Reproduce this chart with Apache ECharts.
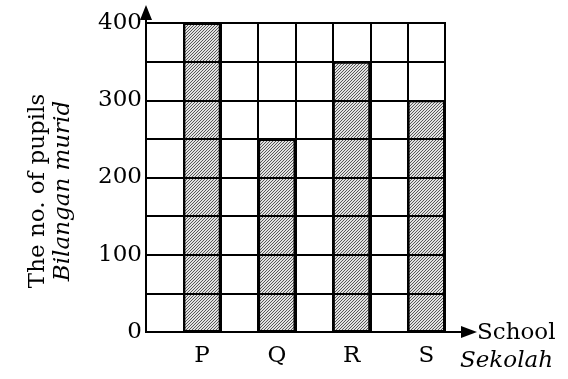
<!DOCTYPE html>
<html>
<head>
<meta charset="utf-8">
<script src="https://cdn.jsdelivr.net/npm/echarts@6/dist/echarts.min.js"></script>
<style>
  html, body { margin: 0; padding: 0; background: #fff; }
  #chart { width: 568px; height: 379px; }
</style>
</head>
<body>
<div id="chart"></div>
<script>
// Number of pupils in each school
const schools = ['P', 'Q', 'R', 'S'];
const pupils = [400, 250, 350, 300];
const yTicks = [0, 100, 200, 300, 400];

// Each school occupies the second of a pair of grid columns
const slotLabels = [];
const slotValues = [];
schools.forEach((s, i) => {
  slotLabels.push('', s);
  slotValues.push('-', pupils[i]);
});

// Fine diagonal hatch fill for the bars (3px pitch, rising to the right)
function hatch() {
  const c = document.createElement('canvas');
  c.width = 3; c.height = 3;
  const g = c.getContext('2d');
  const img = g.createImageData(3, 3);
  for (let y = 0; y < 3; y++) {
    for (let x = 0; x < 3; x++) {
      const dark = (x + y) === 2;
      const v = dark ? 88 : 226;
      const k = (y * 3 + x) * 4;
      img.data[k] = v; img.data[k + 1] = v; img.data[k + 2] = v; img.data[k + 3] = 255;
    }
  }
  g.putImageData(img, 0, 0);
  return c;
}

const FONT = '"DejaVu Serif", serif';
const FS = 23;
const G = { left: 146, top: 23, right: 123, bottom: 47 };
const x0 = G.left, y0 = 379 - G.bottom, x1 = 568 - G.right, yTop = G.top;

const chart = echarts.init(document.getElementById('chart'), null, { renderer: 'canvas' });
chart.setOption({
  animation: false,
  backgroundColor: '#fff',
  grid: { left: G.left, top: G.top, right: G.right, bottom: G.bottom, show: true, borderColor: '#000', borderWidth: 2, backgroundColor: 'transparent', z: 5 },
  xAxis: {
    type: 'category',
    data: slotLabels,
    boundaryGap: true,
    z: 5,
    axisLine: { show: true, lineStyle: { color: '#000', width: 2 } },
    axisTick: { show: false },
    axisLabel: { interval: 0, margin: 13, color: '#000', fontFamily: FONT, fontSize: FS },
    splitLine: { show: true, interval: 0, lineStyle: { color: '#000', width: 2 } }
  },
  yAxis: {
    type: 'value',
    min: 0, max: 400, interval: 50,
    z: 5,
    axisLine: { show: true, lineStyle: { color: '#000', width: 2 } },
    axisTick: { show: false },
    axisLabel: {
      margin: 4, color: '#000', fontFamily: FONT, fontSize: FS,
      formatter: v => (yTicks.indexOf(v) >= 0 ? String(v) : '')
    },
    splitLine: { show: true, lineStyle: { color: '#000', width: 2 } }
  },
  series: [{
    type: 'bar',
    z: 1,
    data: slotValues,
    barWidth: '100%',
    itemStyle: { color: { image: hatch(), repeat: 'repeat' }, borderColor: '#000', borderWidth: 2 }
  }],
  graphic: [
    // y-axis arrow
    { type: 'line', shape: { x1: x0, y1: yTop, x2: x0, y2: 14 }, style: { stroke: '#000', lineWidth: 2 } },
    { type: 'polygon', shape: { points: [[x0, 5], [x0 - 6, 20], [x0 + 6, 20]] }, style: { fill: '#000' } },
    // x-axis arrow
    { type: 'line', shape: { x1: x1, y1: y0, x2: x1 + 18, y2: y0 }, style: { stroke: '#000', lineWidth: 2 } },
    { type: 'polygon', shape: { points: [[x1 + 32, y0], [x1 + 16, y0 - 6], [x1 + 16, y0 + 6]] }, style: { fill: '#000' } },
    // axis titles
    { type: 'text', x: x1 + 32, y: y0 + 1, style: { text: 'School', font: FS + 'px ' + FONT, fill: '#000', textAlign: 'left', textVerticalAlign: 'middle' } },
    { type: 'text', x: x1 + 15, y: y0 + 29, style: { text: 'Sekolah', font: 'italic ' + FS + 'px ' + FONT, fill: '#000', textAlign: 'left', textVerticalAlign: 'middle' } },
    { type: 'text', x: 38, y: 191, rotation: Math.PI / 2, style: { text: 'The no. of pupils', font: FS + 'px ' + FONT, fill: '#000', textAlign: 'center', textVerticalAlign: 'middle' } },
    { type: 'text', x: 63, y: 191, rotation: Math.PI / 2, style: { text: 'Bilangan murid', font: 'italic ' + FS + 'px ' + FONT, fill: '#000', textAlign: 'center', textVerticalAlign: 'middle' } }
  ]
});
</script>
</body>
</html>
